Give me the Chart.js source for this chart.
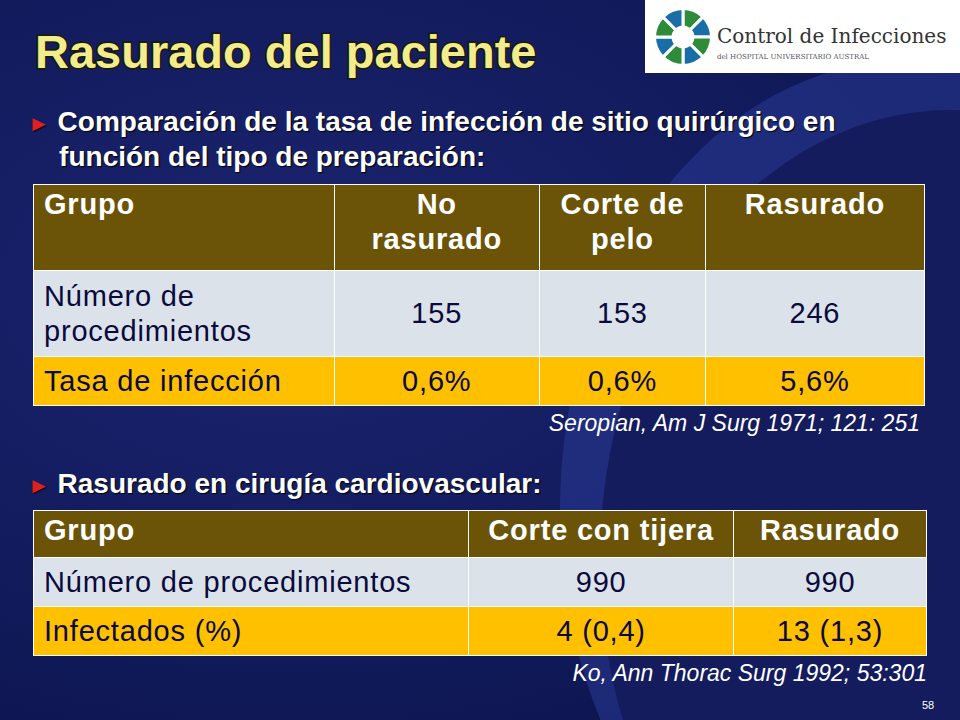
<!DOCTYPE html>
<html><head><meta charset="utf-8">
<script src="https://cdn.jsdelivr.net/npm/chart.js@4"></script>
<style>
body{margin:0;width:960px;height:720px;overflow:hidden;font-family:"Liberation Sans",Arial,sans-serif;}
#slide{position:relative;width:960px;height:720px;background:radial-gradient(ellipse at 30% 40%,#1c2470 0%,#111a5a 60%,#0b1248 100%);overflow:hidden}
#swoosh{position:absolute;left:560px;top:60px;width:700px;height:900px;border-radius:50%;background:#2a3a95;opacity:.55}
#swoosh2{position:absolute;left:600px;top:110px;width:700px;height:900px;border-radius:50%;background:#141c5e}
#title{position:absolute;left:35px;top:24px;font-size:47px;font-weight:bold;color:#f2ec8c;-webkit-text-stroke:3px #1a1a08;paint-order:stroke fill}
#logo{position:absolute;left:645px;top:0;width:315px;height:73px;background:#fff}
#logo .t{position:absolute;left:72px;top:24px;font-family:"DejaVu Serif",serif;font-size:20px;color:#333}
#logo .s{position:absolute;left:72px;top:53px;font-family:"DejaVu Serif",serif;font-size:7px;color:#555}
.bul{position:absolute;left:28px;color:#fff;font-weight:bold;font-size:28px;line-height:33px;text-shadow:1px 1px 1px #000}
.bul span{color:#e02020;font-size:22px}
table{position:absolute;border-collapse:collapse;font-size:29px;letter-spacing:0.8px}
td{border:1px solid #fff;padding:2px 10px;text-align:center;line-height:35px}
td:first-child{text-align:left}
tr.h td{background:#6b5408;color:#fff;font-weight:bold;vertical-align:top}
tr.g td{background:#dce2ea;color:#0a0a3c}
tr.y td{background:#ffc000;color:#0a0a3c}
.cite{position:absolute;color:#fff;font-style:italic;font-size:23px}
</style></head><body>
<div id="slide">
<div id="swoosh"></div><div id="swoosh2"></div>
<div id="title">Rasurado del paciente</div>
<div id="logo"><canvas id="mark" width="60" height="60" style="position:absolute;left:8px;top:7px"></canvas>
<div class="t">Control de Infecciones</div><div class="s">del HOSPITAL UNIVERSITARIO AUSTRAL</div></div>
<div class="bul" style="top:105px"><span>►</span> Comparación de la tasa de infección de sitio quirúrgico en<br>&nbsp;&nbsp;&nbsp;&nbsp;función del tipo de preparación:</div>
<table id="t1" style="left:33px;top:184px;width:892px"></table>
<div class="cite" style="right:40px;top:410px">Seropian, Am J Surg 1971; 121: 251</div>
<div class="bul" style="top:467px"><span>►</span> Rasurado en cirugía cardiovascular:</div>
<table id="t2" style="left:33px;top:510px;width:894px"></table>
<div class="cite" style="right:33px;top:660px">Ko, Ann Thorac Surg 1992; 53:301</div>
<div style="position:absolute;left:922px;top:699px;color:#fff;font-size:11px">58</div>
</div>
<script>
// tabla 1
const t1Cols = ['Grupo', 'No<br>rasurado', 'Corte de<br>pelo', 'Rasurado'];
const t1Proc = ['Número de<br>procedimientos', '155', '153', '246'];
const t1Tasa = ['Tasa de infección', '0,6%', '0,6%', '5,6%'];
const t1Widths = [304, 203, 167, 218];
const t1Heights = [86, 86, 49];
// tabla 2
const t2Cols = ['Grupo', 'Corte con tijera', 'Rasurado'];
const t2Proc = ['Número de procedimientos', '990', '990'];
const t2Inf = ['Infectados (%)', '4 (0,4)', '13 (1,3)'];
const t2Widths = [447, 270, 177];
const t2Heights = [47, 49, 49];

function armar(id, filas, clases, anchos, altos) {
    const t = document.getElementById(id);
    t.innerHTML = filas.map((f, i) =>
        `<tr class="${clases[i]}" style="height:${altos[i]}px">` +
        f.map((c, j) => `<td style="width:${anchos[j]}px">${c}</td>`).join('') + '</tr>').join('');
}
armar('t1', [t1Cols, t1Proc, t1Tasa], ['h', 'g', 'y'], t1Widths, t1Heights);
armar('t2', [t2Cols, t2Proc, t2Inf], ['h', 'g', 'y'], t2Widths, t2Heights);

// logo: flor de pétalos
const petalos = [1, 1, 1, 1, 1, 1, 1, 1];
new Chart(document.getElementById('mark'), {
    type: 'doughnut',
    data: { datasets: [{ data: petalos,
        backgroundColor: ['#2e8b3a', '#1a6ea8', '#2e8b3a', '#1a6ea8', '#2e8b3a', '#1a6ea8', '#2e8b3a', '#1a6ea8'],
        borderColor: '#fff', borderWidth: 3 }] },
    options: { responsive: false, animation: false, cutout: '35%',
        plugins: { legend: { display: false }, tooltip: { enabled: false } } }
});
</script>
</body></html>
